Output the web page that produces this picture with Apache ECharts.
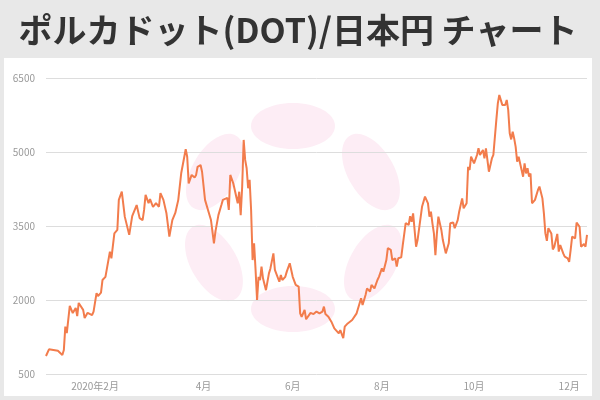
<!DOCTYPE html>
<html>
<head>
<meta charset="utf-8">
<script src="https://cdn.jsdelivr.net/npm/echarts@6/dist/echarts.min.js"></script>
<style>
html,body{margin:0;padding:0;background:#e8e8e8;}
#c{width:600px;height:400px;}
</style>
</head>
<body>
<div id="c"></div>
<script>
// Title
const titleText = 'ポルカドット(DOT)/日本円 チャート';

// Day-of-year index (0 = 2021-01-01) of each reading, and DOT/JPY price
const dayIndex = [0,2,5,8,11,12,13,14,16,18,20,21,22,25,26,28,31,32,34,35,37,38,40,43,44,46,48,49,51,53,56,58,61,63,
  65,66,67,69,70,72,74,76,77,79,81,83,85,86,87,89,91,94,95,96,98,100,101,102,104,105,107,109,111,113,114,116,118,
  119,122,123,124,126,127,129,130,131,132,133,134,135,136,137,138,139,140,141,142,143,144,145,146,148,150,151,153,
  154,155,157,158,159,161,162,164,166,168,170,171,172,174,175,178,180,182,184,186,187,188,190,192,194,197,198,200,
  201,203,206,209,211,212,213,215,216,218,219,221,223,224,226,227,229,230,232,233,235,236,237,239,240,242,243,244,
  245,246,247,248,249,250,251,253,254,255,257,258,259,260,261,262,263,264,266,267,269,271,272,274,275,277,278,279,
  280,281,283,284,285,286,288,289,290,291,292,294,295,296,297,298,300,301,302,303,304,305,307,309,310,311,312,313,
  314,315,316,317,318,320,321,322,323,324,325,326,327,329,331,332,334,335,336,337,338,340,341,342,344,345,346,348,
  349,351,352,353,354,356,357,359,360,362,363,364];
const prices = [865,1000,985,970,885,985,1460,1330,1880,1735,1840,1675,1940,1800,1635,1740,1695,1765,2140,2080,2150,
  2405,2470,2980,2845,3350,3420,4030,4195,3690,3320,3700,3925,3660,
  3620,3825,4130,3965,4045,3885,3965,3890,4165,4030,3765,3285,3620,3585,3765,4030,4575,5055,4905,4365,4535,4485,
  4535,4700,4735,4600,4030,3825,3620,3150,3385,3720,3925,
  4030,4070,3825,4535,4365,4400,3960,4195,3720,4300,5245,4840,4670,4265,4435,3825,2810,3150,2610,2000,2470,2405,
  2675,2440,2200,2540,2640,2945,
  2610,2640,2370,2505,2405,2470,2575,2745,2470,2305,2270,1730,1660,1800,1610,1740,1715,1765,1730,1765,1865,1715,
  1660,1560,1425,1325,1390,1225,
  1460,1525,1595,1730,1935,2035,1900,2100,2235,2170,2305,2235,2405,2470,2640,2575,2810,3050,3015,2810,2845,2675,
  2845,2865,3100,3560,3585,3520,
  3700,3585,3755,3420,3080,3215,3250,3890,3860,4095,3960,3690,3790,3555,3350,2910,3350,3690,3420,3215,2945,3150,
  3555,3570,3455,3620,3790,3755,
  4060,3860,3960,4700,4635,4905,4770,4735,4940,5075,4940,5040,4870,5075,5105,4600,4870,4940,4950,5650,5985,6155,
  5955,5955,6055,5850,5380,5255,
  5410,5275,5105,4805,4905,4635,4500,4770,4565,4670,4500,4565,3960,4030,4230,4300,4060,3755,3350,3200,3455,3350,
  3025,3080,3340,2980,3115,2945,
  2880,2845,2775,3015,3285,3250,3570,3485,3080,3135,3080,3320];

// X tick labels and the dates they sit on
const xTickLabels = ['2020年2月','4月','6月','8月','10月','12月'];
const xTickDates = ['2021-02-03','2021-04-17','2021-06-16','2021-08-15','2021-10-16','2021-12-19'];

// Y axis
const yMin = 500, yMax = 6500, yStep = 1500;

// Build categories (every day of 2021)
const categories = [];
const t0 = Date.UTC(2021, 0, 1);
for (let i = 0; i < 365; i++) {
  const d = new Date(t0 + i * 86400000);
  categories.push(d.toISOString().slice(0, 10));
}
const seriesData = new Array(365).fill(null);
dayIndex.forEach((d, i) => { seriesData[d] = prices[i]; });
const tickIdx = xTickDates.map(s => categories.indexOf(s));

const chart = echarts.init(document.getElementById('c'), null, {renderer: 'canvas'});
const pink = '#fdedf5';
const cx0 = 293, cy0 = 217;
function dot(dx, dy, rot) {
  return {type: 'ellipse', x: cx0 + dx, y: cy0 + dy, rotation: rot, z: -10,
    shape: {cx: 0, cy: 0, rx: 42, ry: 23}, style: {fill: pink}, silent: true};
}
chart.setOption({
  backgroundColor: '#e8e8e8',
  animation: false,
  graphic: [
    {type: 'rect', z: -20, shape: {x: 4, y: 58, width: 588, height: 338}, style: {fill: '#ffffff'}, silent: true},
    {type: 'text', z: 10, x: 298, y: 30, style: {text: titleText, fill: '#333333',
      font: 'bold 34px "Noto Sans CJK JP"', textAlign: 'center', textVerticalAlign: 'middle'}},
    dot(0, -91, 0),
    dot(0, 92, 0),
    dot(-78, -45, Math.PI / 3),
    dot(78, -45, -Math.PI / 3),
    dot(-79, 46, -Math.PI / 3),
    dot(80, 46, Math.PI / 3)
  ],
  grid: {left: 46, right: 13, top: 78, bottom: 26, containLabel: false},
  xAxis: {
    type: 'category',
    data: categories,
    boundaryGap: false,
    axisLine: {show: false},
    axisTick: {show: false},
    axisLabel: {
      interval: (idx) => tickIdx.indexOf(idx) >= 0,
      formatter: (val, idx) => { const k = tickIdx.indexOf(idx); return k >= 0 ? xTickLabels[k] : ''; },
      color: '#999999', fontSize: 10, margin: 7, fontFamily: '"Noto Sans CJK JP"'
    },
    splitLine: {show: false}
  },
  yAxis: {
    type: 'value',
    min: yMin, max: yMax, interval: yStep,
    axisLine: {show: false},
    axisTick: {show: false},
    axisLabel: {color: '#999999', fontSize: 10, margin: 11, fontFamily: '"Noto Sans CJK JP"',
      formatter: (v) => String(v)},
    splitLine: {lineStyle: {color: '#dddddd', width: 1}}
  },
  series: [{
    type: 'line',
    data: seriesData,
    connectNulls: true,
    showSymbol: false,
    symbol: 'none',
    lineStyle: {color: '#f27c4c', width: 2},
    z: 5
  }]
});
</script>
</body>
</html>
